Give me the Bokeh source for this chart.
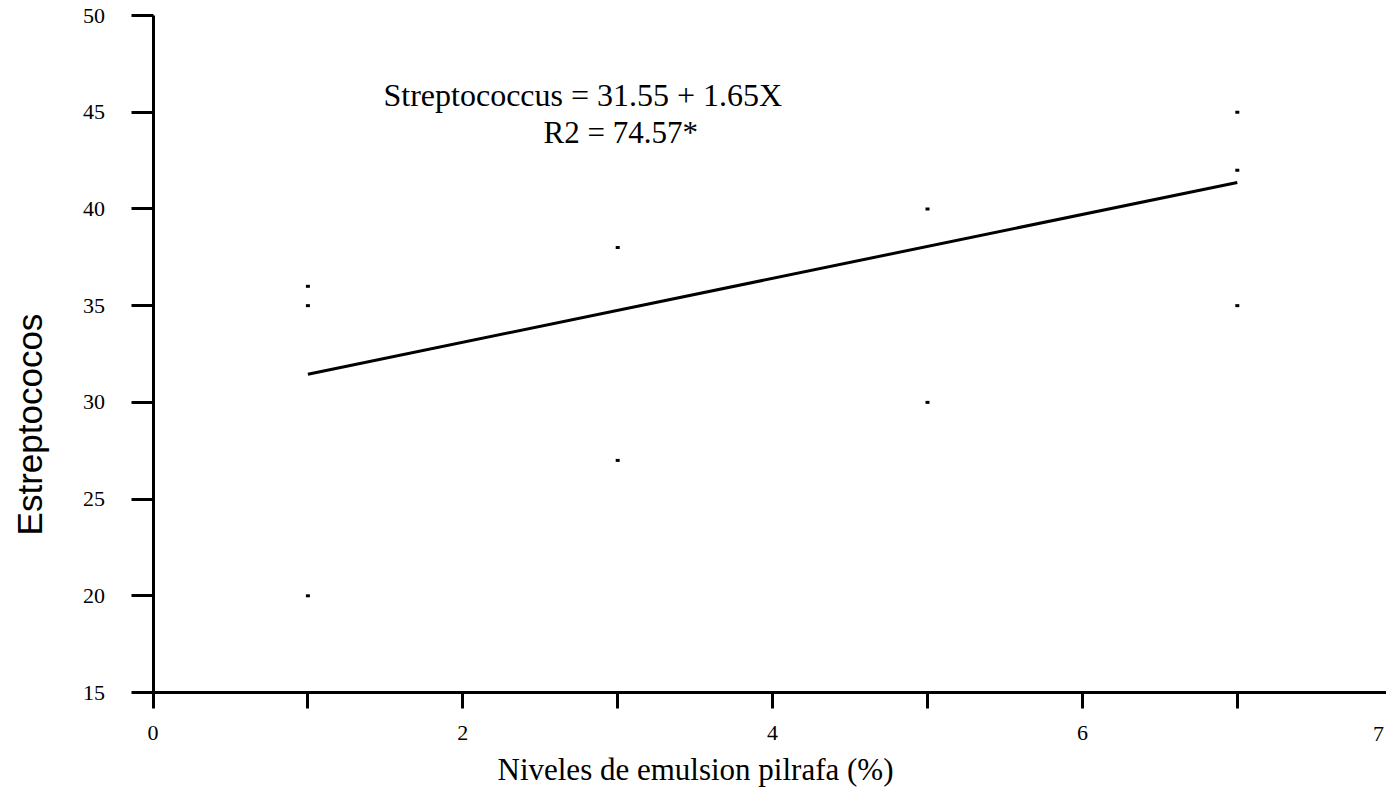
import math
from bokeh.plotting import figure
from bokeh.models import FixedTicker, Label, Range1d
from bokeh.embed import file_html
from bokeh.resources import INLINE

# ---- data ----
level_x = [1, 1, 1, 3, 3, 5, 5, 7, 7, 7]
strep_y = [36, 35, 20, 38, 27, 40, 30, 45, 42, 35]
fit_x = [1, 7]
fit_y = [31.45, 41.37]
y_ticks = [15, 20, 25, 30, 35, 40, 45, 50]
x_major_ticks = [0, 2, 4, 6]
x_minor_ticks = [1, 3, 5, 7]
equation_text = "Streptococcus = 31.55 + 1.65X"
r2_text = "R2 = 74.57*"
x_title = "Niveles de emulsion pilrafa (%)"
y_title = "Estreptococos"
edge_tick_label = "7"

SERIF = "Liberation Serif"
SANS = "Liberation Sans"

# the frame covers the whole canvas; the axes sit at x = 0 and y = 15
X0, X1 = 0, 7.9632
Y0, Y1 = 15, 50
p = figure(width=1386, height=793, output_backend="svg", toolbar_location=None,
           x_range=Range1d(-0.98451, X1), y_range=Range1d(9.7792, 50.7755),
           min_border_left=0, min_border_right=0, min_border_top=0,
           min_border_bottom=0)
p.outline_line_color = None
p.xgrid.visible = False
p.ygrid.visible = False
p.background_fill_color = "white"
p.border_fill_color = "white"

for ax in (p.xaxis[0], p.yaxis[0]):
    ax.axis_line_width = 3
    ax.axis_line_color = "black"
    ax.major_tick_line_width = 3
    ax.minor_tick_line_width = 3
    ax.major_tick_line_color = "black"
    ax.minor_tick_line_color = "black"
    ax.major_tick_in = 0
    ax.minor_tick_in = 0
    ax.major_label_text_font = SERIF
    ax.major_label_text_font_size = "22px"
    ax.major_label_text_color = "black"

p.xaxis.fixed_location = Y0
p.xaxis.bounds = (X0, X1)
p.xaxis.ticker = FixedTicker(ticks=x_major_ticks, minor_ticks=x_minor_ticks)
p.xaxis.major_tick_out = 16
p.xaxis.minor_tick_out = 16
p.xaxis.major_label_standoff = 17

p.yaxis.fixed_location = X0
p.yaxis.bounds = (Y0, Y1)
p.yaxis.ticker = FixedTicker(ticks=y_ticks, minor_ticks=[])
p.yaxis.major_tick_out = 22
p.yaxis.minor_tick_out = 0
p.yaxis.major_label_standoff = 26

# data
p.line(fit_x, fit_y, line_color="black", line_width=3)
p.rect(level_x, strep_y, width=4, height=3, width_units="screen",
       height_units="screen", fill_color="black", line_color=None)

# regression annotation
p.add_layout(Label(x=1.488, y=45.87, text=equation_text, text_font=SERIF,
                   text_font_size="32px", text_color="black",
                   text_align="left", text_baseline="alphabetic"))
p.add_layout(Label(x=2.521, y=43.95, text=r2_text, text_font=SERIF,
                   text_font_size="31px", text_color="black",
                   text_align="left", text_baseline="alphabetic"))

# axis titles, placed as in the reference
p.add_layout(Label(x=2.224, y=11.04, text=x_title, text_font=SERIF,
                   text_font_size="31px", text_color="black",
                   text_align="left", text_baseline="alphabetic"))
p.add_layout(Label(x=-0.797, y=28.855, text=y_title, text_font=SANS,
                   text_font_size="35px", text_color="black", angle=math.pi / 2,
                   text_align="center", text_baseline="middle"))

# tick label seen at the right edge
p.add_layout(Label(x=7.912, y=12.88, text=edge_tick_label, text_font=SERIF,
                   text_font_size="22px", text_color="black",
                   text_align="center", text_baseline="alphabetic"))

open("out.html", "w").write(file_html(p, INLINE))
